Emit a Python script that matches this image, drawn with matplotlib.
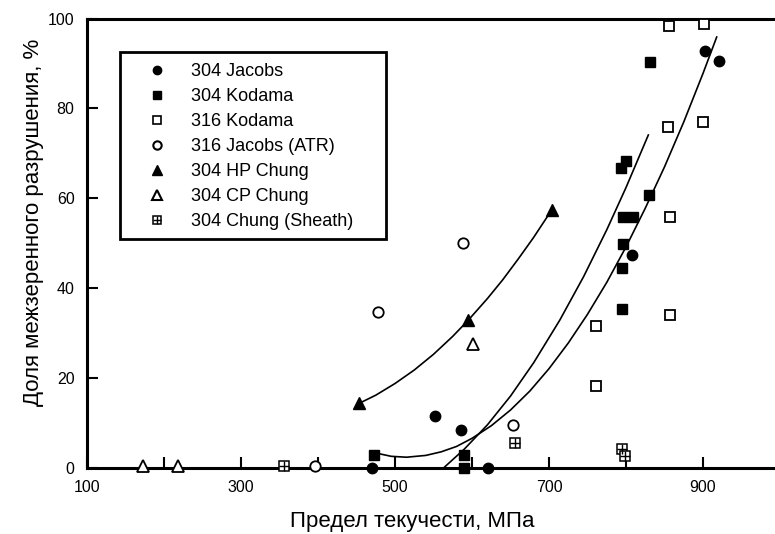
import matplotlib
matplotlib.use("Agg")
import matplotlib.pyplot as plt
from matplotlib.lines import Line2D
from matplotlib.patches import Rectangle
from matplotlib.legend_handler import HandlerTuple

plt.rcParams['font.family'] = ['Liberation Sans', 'DejaVu Sans']

# ---- data (yield strength MPa, IG fraction %) ----
jacobs304_x = [469.7, 552, 585.7, 620.5, 807.4, 902.6, 920.8]
jacobs304_y = [0, 11.5, 8.5, 0, 47.5, 92.7, 90.6]

kodama304_x = [473, 590, 590, 793.5, 800, 796.5, 809.5, 830.3, 796.5, 795, 795, 831]
kodama304_y = [2.9, 2.9, 0, 66.7, 68.4, 55.8, 55.8, 60.8, 49.8, 44.4, 35.3, 90.3]

kodama316_x = [856, 901, 855, 900, 857, 857, 761, 761]
kodama316_y = [98.3, 98.7, 75.9, 76.9, 55.9, 34.0, 31.6, 18.2]

jacobs316_x = [396, 478.3, 588.7, 653.6]
jacobs316_y = [0.5, 34.7, 50.0, 9.5]

hp_chung_x = [453.6, 595.2, 703.5]
hp_chung_y = [14.4, 32.9, 57.4]

cp_chung_x = [173, 217.8, 601.7]
cp_chung_y = [0.5, 0.5, 27.5]

sheath_x = [355.8, 655.8, 794.4, 798.7]
sheath_y = [0.5, 5.5, 4.3, 2.6]

# trend curves
curve_hp_x = [453.6, 475, 500, 525, 550, 575, 595.2, 620, 640, 660, 680, 703.5]
curve_hp_y = [14.4, 16.2, 18.8, 21.8, 25.3, 29.3, 32.9, 37.7, 41.9, 46.5, 51.3, 57.4]

curve_a_x = [476, 495, 515, 540, 560, 580, 600, 625, 650, 675, 700, 725, 750,
             775, 800, 825, 850, 875, 900, 917.8]
curve_a_y = [3.3, 2.6, 2.4, 2.8, 3.6, 4.8, 6.6, 9.4, 12.9, 17.1, 22.1, 27.8, 34.2,
             41.3, 49.2, 57.8, 67.0, 77.0, 87.8, 95.9]

curve_b_x = [563, 590, 620, 650, 680, 714, 745, 775, 800, 829]
curve_b_y = [0, 4.2, 9.6, 16.0, 23.4, 32.9, 42.6, 53.0, 62.4, 74.1]

labels = ["304 Jacobs", "304 Kodama", "316 Kodama", "316 Jacobs (ATR)",
          "304 HP Chung", "304 CP Chung", "304 Chung (Sheath)"]

xticks_major = [100, 300, 500, 700, 900]
xticks_minor = [200, 400, 600, 800]
yticks = [0, 20, 40, 60, 80, 100]

W, H = 775, 534
fig = plt.figure(figsize=(W/100, H/100), dpi=100)
ax = fig.add_axes([87/W, 1-468/H, 1-87/W, (468-18.6)/H])
ax.set_xlim(100, 100 + (W-87)/0.77)
ax.set_ylim(0, 100)

lw_c = 1.2
for cx, cy in [(curve_hp_x, curve_hp_y), (curve_a_x, curve_a_y), (curve_b_x, curve_b_y)]:
    ax.plot(cx, cy, color='black', lw=lw_c, zorder=2, solid_joinstyle='round')

kw = dict(linestyle='none', clip_on=False, zorder=3)
ax.plot(jacobs304_x, jacobs304_y, marker='o', ms=7.5, color='black', **kw)
ax.plot(kodama304_x, kodama304_y, marker='s', ms=7, color='black', **kw)
ax.plot(kodama316_x, kodama316_y, marker='s', ms=7, mfc='white', mec='black', mew=1.3, **kw)
ax.plot(jacobs316_x, jacobs316_y, marker='o', ms=7.5, mfc='white', mec='black', mew=1.3, **kw)
ax.plot(hp_chung_x, hp_chung_y, marker='^', ms=9, color='black', **kw)
ax.plot(cp_chung_x, cp_chung_y, marker='^', ms=9, mfc='white', mec='black', mew=1.3, **kw)
ax.plot(sheath_x, sheath_y, marker='s', ms=7, mfc='white', mec='black', mew=1.1, **kw)
ax.plot(sheath_x, sheath_y, marker='+', ms=7, mec='black', mew=1.0, **kw)

for s in ['left', 'bottom', 'top']:
    ax.spines[s].set_linewidth(2.2)
ax.spines['right'].set_visible(False)

ax.set_xticks(xticks_major)
ax.set_xticks(xticks_minor, minor=True)
ax.set_yticks(yticks)
ax.tick_params(axis='both', which='both', direction='in', length=8, width=1.5,
               labelsize=11.5, top=False, right=False)
ax.tick_params(axis='x', pad=9)
ax.tick_params(axis='y', pad=9)

fig.text(412/W, 1-522/H, "Предел текучести, МПа", fontsize=16, ha='center', va='center')
fig.text(34/W, 1-222.5/H, "Доля межзеренного разрушения, %", fontsize=16,
         ha='center', va='center', rotation=90)

handles = [
    Line2D([], [], marker='o', ms=6, color='black', ls='none'),
    Line2D([], [], marker='s', ms=6, color='black', ls='none'),
    Line2D([], [], marker='s', ms=6, mfc='white', mec='black', mew=1.2, ls='none'),
    Line2D([], [], marker='o', ms=6, mfc='white', mec='black', mew=1.5, ls='none'),
    Line2D([], [], marker='^', ms=7, color='black', ls='none'),
    Line2D([], [], marker='^', ms=7, mfc='white', mec='black', mew=1.5, ls='none'),
    (Line2D([], [], marker='s', ms=6, mfc='white', mec='black', mew=1.1, ls='none'),
     Line2D([], [], marker='+', ms=6, mec='black', mew=1.0, ls='none')),
]
leg = fig.legend(handles, labels, loc='center left',
                 bbox_to_anchor=(147.7/W, 1-146.7/H),
                 bbox_transform=fig.transFigure,
                 fontsize=13, frameon=False, borderpad=0, labelspacing=0.44,
                 handletextpad=1.4, handlelength=1.0, borderaxespad=0,
                 handler_map={tuple: HandlerTuple(ndivide=1, pad=0)})
fig.patches.append(Rectangle((120/W, 1-239/H), (386-120)/W, (239-51.7)/H,
                             transform=fig.transFigure, fill=True, facecolor='white',
                             edgecolor='black', lw=2.0, zorder=5))
leg.set_zorder(6)

fig.savefig("out.png", dpi=100)
